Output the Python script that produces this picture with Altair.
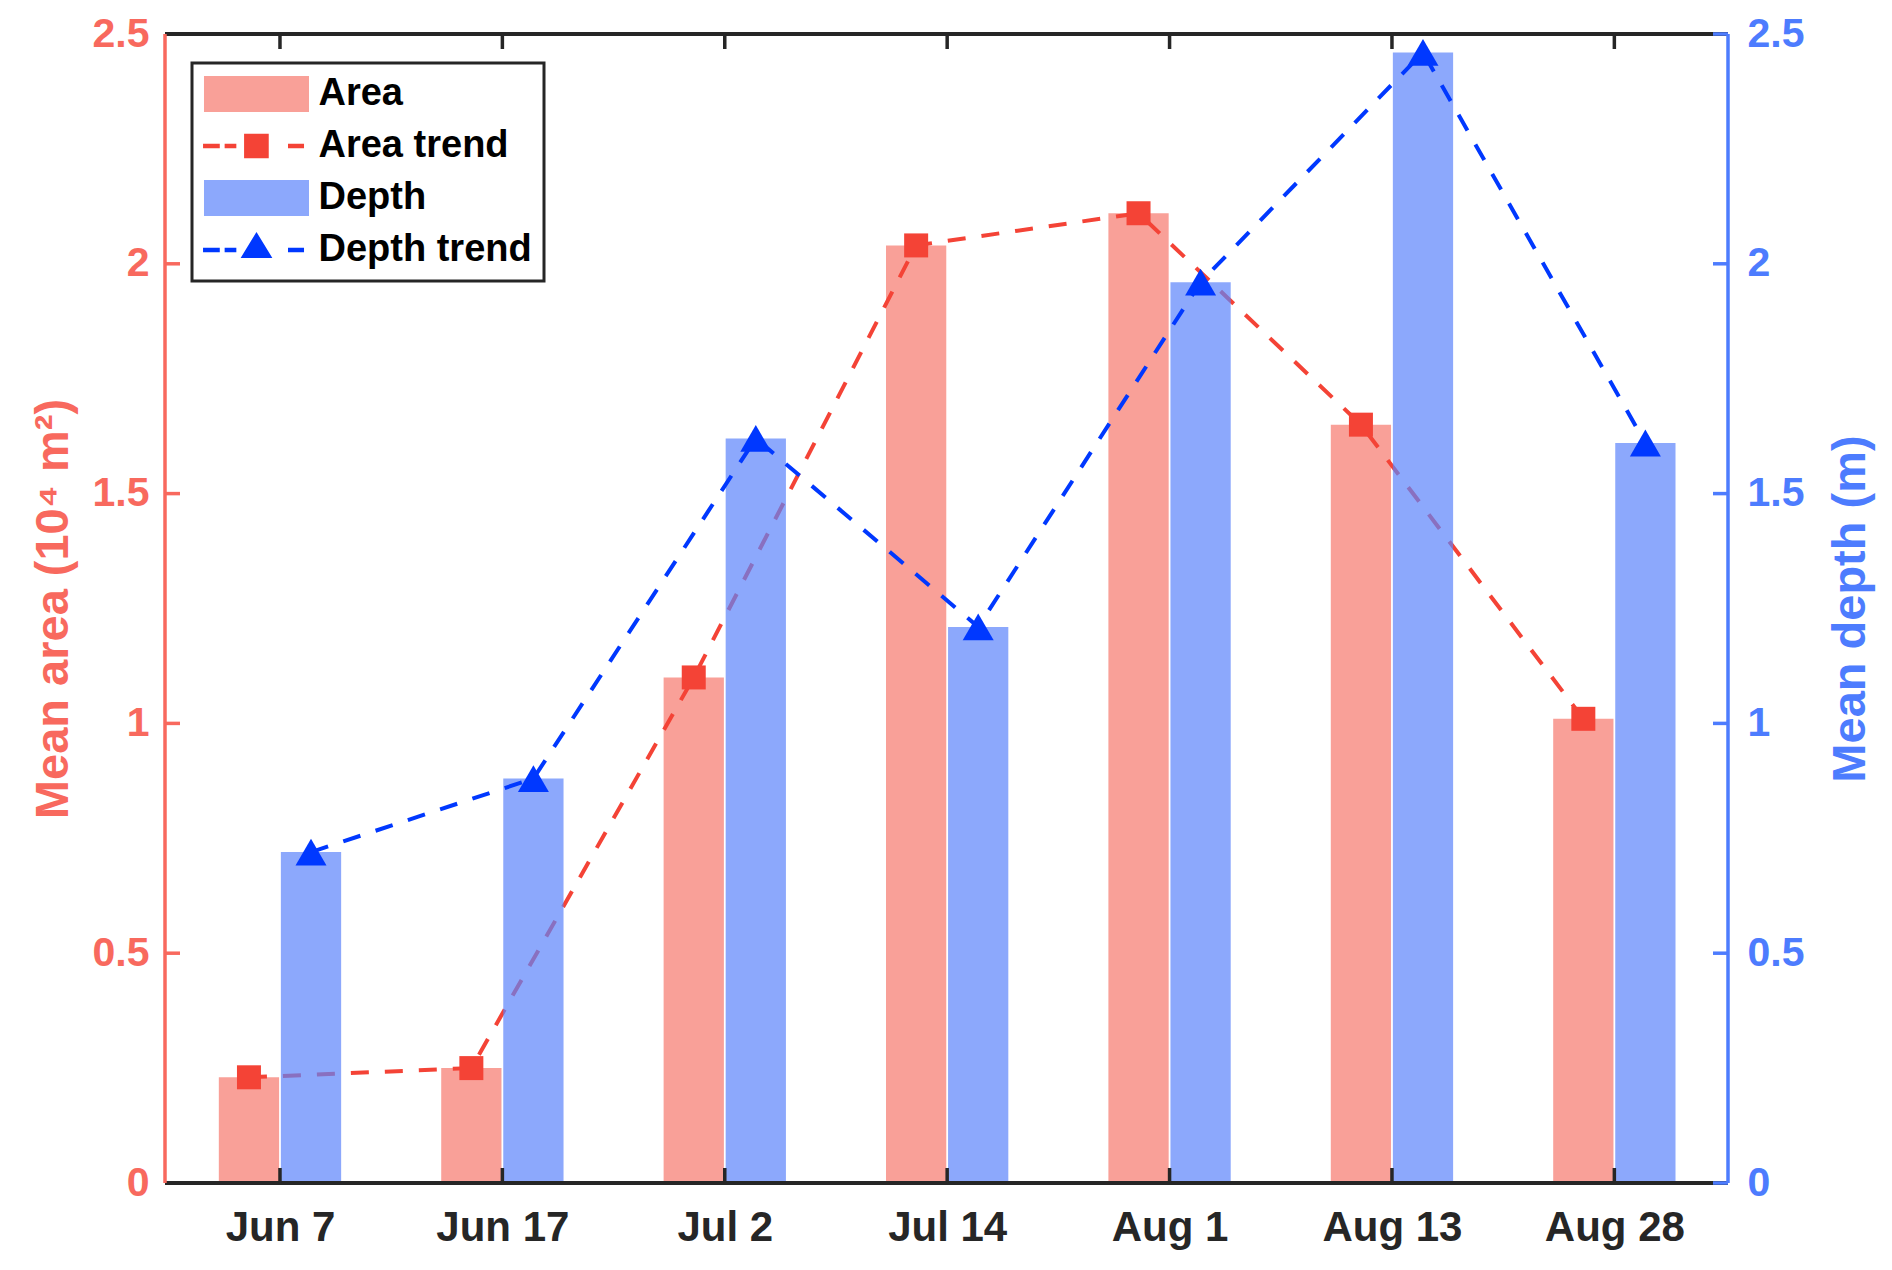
import altair as alt
import pandas as pd

# ---- data ----
dates = ["Jun 7", "Jun 17", "Jul 2", "Jul 14", "Aug 1", "Aug 13", "Aug 28"]
mean_area = [0.23, 0.25, 1.10, 2.04, 2.11, 1.65, 1.01]
mean_depth = [0.72, 0.88, 1.62, 1.21, 1.96, 2.46, 1.61]
y_ticks = [0, 0.5, 1, 1.5, 2, 2.5]
series = ["Area", "Area trend", "Depth", "Depth trend"]

# ---- layout / style ----
W, H = 1563, 1149
TICK = 15
FONT = "Liberation Sans"
RED_AX = "#F8695E"
BLUE_AX = "#4D7CFE"
AREA_BAR = "#F9A098"
AREA_LINE = "#F44336"
DEPTH_BAR = "#5B83FB"
DEPTH_LINE = "#0038FF"
DARK = "#262626"
DASH = [18, 16]
LW = 4

df = pd.DataFrame({"i": list(range(len(dates))), "date": dates,
                   "area": mean_area, "depth": mean_depth})
ticks_df = pd.DataFrame({"v": y_ticks})
one = pd.DataFrame({"k": [0]})
leg_df = pd.DataFrame({"s": series})

xscale = alt.Scale(domain=[-0.517, 6.511], nice=False, zero=False)
yl = alt.Scale(domain=[0, 2.5], nice=False)
yr = alt.Scale(domain=[0, 2.5], nice=False)

label_expr = "[" + ",".join("'" + d + "'" for d in dates) + "][datum.value]"

x_axis = alt.Axis(values=list(range(len(dates))), labelExpr=label_expr, title=None,
                  domain=False, ticks=False, tickSize=0, grid=False,
                  labelFont=FONT, labelFontSize=42, labelFontWeight="bold",
                  labelColor=DARK, labelPadding=24, labelFlush=False, labelOverlap=False)

yl_axis = alt.Axis(values=y_ticks, format="~g", title="Mean area (10⁴ m²)",
                   domain=False, ticks=False, tickSize=0, grid=False, orient="left",
                   labelFont=FONT, labelFontSize=41, labelFontWeight="bold",
                   labelColor=RED_AX, labelPadding=16, labelFlush=False, labelOverlap=False,
                   titleFont=FONT, titleFontSize=47, titleFontWeight="bold",
                   titleColor=RED_AX, titleAngle=270, titleX=-112, titleY=H / 2,
                   titleAlign="center", titleBaseline="middle")

yr_axis = alt.Axis(values=y_ticks, format="~g", title="Mean depth (m)",
                   domain=False, ticks=False, tickSize=0, grid=False, orient="right",
                   labelFont=FONT, labelFontSize=41, labelFontWeight="bold",
                   labelColor=BLUE_AX, labelPadding=19, labelFlush=False, labelOverlap=False,
                   titleFont=FONT, titleFontSize=47, titleFontWeight="bold",
                   titleColor=BLUE_AX, titleAngle=270, titleX=122, titleY=H / 2,
                   titleAlign="center", titleBaseline="middle")

base = alt.Chart(df).transform_calculate(
    ax0="datum.i - 0.275", ax1="datum.i - 0.004", axc="datum.i - 0.1395",
    dx0="datum.i + 0.004", dx1="datum.i + 0.275", dxc="datum.i + 0.1395",
)

# ---- left (area) group ----
area_bars = base.mark_rect(color=AREA_BAR).encode(
    x=alt.X("ax0:Q", scale=xscale, axis=x_axis), x2="ax1:Q",
    y=alt.Y("area:Q", scale=yl, axis=yl_axis), y2=alt.datum(0))

area_line = base.mark_line(color=AREA_LINE, strokeWidth=LW, strokeDash=DASH).encode(
    x=alt.X("axc:Q", scale=xscale, axis=x_axis),
    y=alt.Y("area:Q", scale=yl, axis=yl_axis))

area_pts = base.mark_point(shape="square", filled=True, size=576, color=AREA_LINE, opacity=1).encode(
    x=alt.X("axc:Q", scale=xscale, axis=x_axis),
    y=alt.Y("area:Q", scale=yl, axis=yl_axis))

left_ticks = alt.Chart(ticks_df).mark_rule(color=RED_AX, strokeWidth=3.5).encode(
    y=alt.Y("v:Q", scale=yl, axis=yl_axis), x=alt.value(0), x2=alt.value(TICK))

# legend symbols (custom paths in units of 18 px)
rect_path = "M-2.917,-1H2.917V1H-2.917Z"
dash_l = "M-2.97,-0.12H-2.04V0.12H-2.97Z M-1.77,-0.12H-1.12V0.12H-1.77Z M1.75,-0.12H2.64V0.12H1.75Z"
sq_path = dash_l + " M-0.69,-0.68H0.68V0.68H-0.69Z"
tri_path = dash_l + " M0,-1L0.88,0.44L-0.88,0.44Z"
leg_paths = [rect_path, sq_path, rect_path, tri_path]
leg_colors = ["#F9A098", AREA_LINE, "#8CA8FC", DEPTH_LINE]

leg = alt.Legend(title=None, orient="none", legendX=27, legendY=29,
                 labelFont=FONT, labelFontSize=38, labelFontWeight="bold", labelColor="black",
                 labelLimit=400, symbolSize=1296, symbolStrokeWidth=0, symbolOpacity=1,
                 symbolOffset=33.5, labelOffset=43, padding=12, rowPadding=14,
                 strokeColor=DARK, fillColor="white")

legend_layer = alt.Chart(leg_df).mark_point(filled=True, opacity=1).encode(
    x=alt.value(-3000), y=alt.value(-3000),
    color=alt.Color("s:N", scale=alt.Scale(domain=series, range=leg_colors), legend=leg),
    shape=alt.Shape("s:N", scale=alt.Scale(domain=series, range=leg_paths), legend=leg),
    size=alt.value(1296))

left = alt.layer(area_bars, area_line, area_pts, left_ticks, legend_layer)

# ---- right (depth) group ----
depth_bars = base.mark_rect(color=DEPTH_BAR, opacity=0.7).encode(
    x=alt.X("dx0:Q", scale=xscale, axis=x_axis), x2="dx1:Q",
    y=alt.Y("depth:Q", scale=yr, axis=yr_axis), y2=alt.datum(0))

depth_line = base.mark_line(color=DEPTH_LINE, strokeWidth=LW, strokeDash=DASH).encode(
    x=alt.X("dxc:Q", scale=xscale, axis=x_axis),
    y=alt.Y("depth:Q", scale=yr, axis=yr_axis))

depth_pts = base.mark_point(shape="triangle-up", filled=True, size=961, color=DEPTH_LINE, opacity=1).encode(
    x=alt.X("dxc:Q", scale=xscale, axis=x_axis),
    y=alt.Y("depth:Q", scale=yr, axis=yr_axis))

frame_top = alt.Chart(one).mark_rule(color=DARK, strokeWidth=4).encode(
    x=alt.value(0), x2=alt.value(W), y=alt.value(0))
frame_bot = alt.Chart(one).mark_rule(color=DARK, strokeWidth=4).encode(
    x=alt.value(0), x2=alt.value(W), y=alt.value(H))
frame_left = alt.Chart(one).mark_rule(color=RED_AX, strokeWidth=3.5).encode(
    x=alt.value(0), y=alt.value(0), y2=alt.value(H))
frame_right = alt.Chart(one).mark_rule(color=BLUE_AX, strokeWidth=3.5).encode(
    x=alt.value(W), y=alt.value(0), y2=alt.value(H))

right_ticks = alt.Chart(ticks_df).mark_rule(color=BLUE_AX, strokeWidth=3.5).encode(
    y=alt.Y("v:Q", scale=yr, axis=yr_axis), x=alt.value(W - TICK), x2=alt.value(W))

x_ticks_bot = alt.Chart(df).mark_rule(color=DARK, strokeWidth=3.5).encode(
    x=alt.X("i:Q", scale=xscale, axis=x_axis), y=alt.value(H - TICK), y2=alt.value(H))
x_ticks_top = alt.Chart(df).mark_rule(color=DARK, strokeWidth=3.5).encode(
    x=alt.X("i:Q", scale=xscale, axis=x_axis), y=alt.value(0), y2=alt.value(TICK))

right = alt.layer(depth_bars, depth_line, depth_pts, frame_top, frame_bot,
                  frame_left, frame_right, right_ticks, x_ticks_bot, x_ticks_top)

chart = alt.layer(left, right).resolve_scale(y="independent").properties(
    width=W, height=H,
    autosize=alt.AutoSizeParams(type="none"),
    padding={"left": 157, "top": 26, "right": 150, "bottom": 70},
).configure_view(stroke=None).configure_legend(strokeWidth=3)

chart.save("out.html", embed_options={"renderer": "svg", "actions": False})
